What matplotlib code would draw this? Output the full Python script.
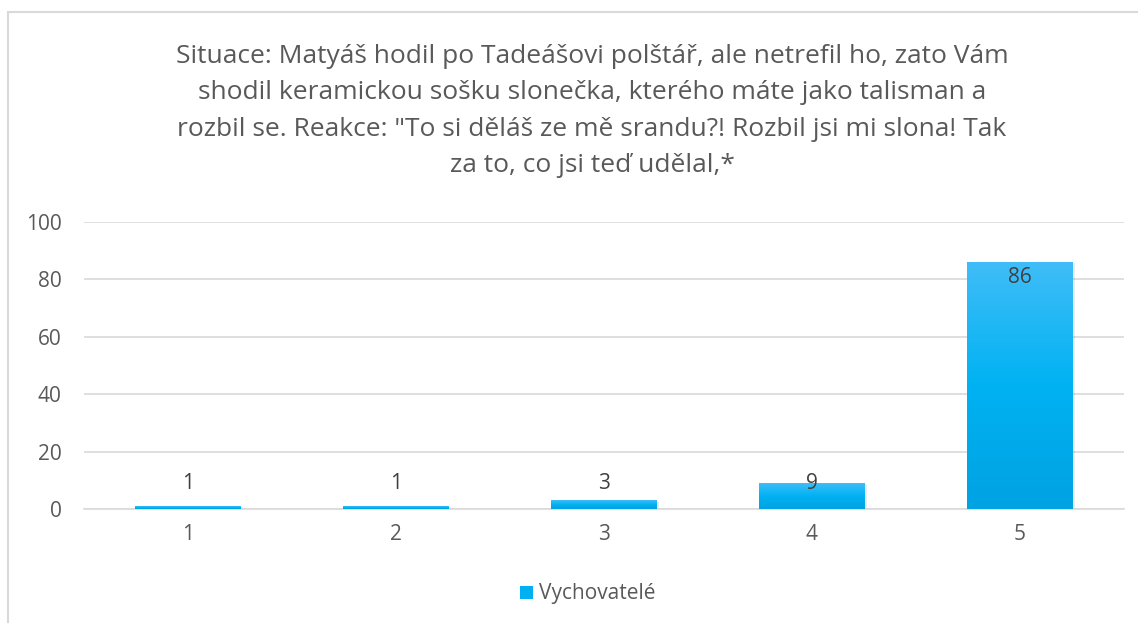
import numpy as np
import matplotlib.pyplot as plt
from matplotlib.patches import Rectangle
from matplotlib.colors import LinearSegmentedColormap

categories = ['1', '2', '3', '4', '5']
values = [1, 1, 3, 9, 86]
series_name = 'Vychovatelé'
yticks = [0, 20, 40, 60, 80, 100]
title = ('Situace: Matyáš hodil po Tadeášovi polštář, ale netrefil ho, zato Vám\n'
         'shodil keramickou sošku slonečka, kterého máte jako talisman a\n'
         'rozbil se. Reakce: "To si děláš ze mě srandu?! Rozbil jsi mi slona! Tak\n'
         'za to, co jsi teď udělal,*')

plt.rcParams['font.family'] = ['Open Sans', 'DejaVu Sans']
txt = '#595959'

fig = plt.figure(figsize=(11.38, 6.23), dpi=100)
fig.patches.append(Rectangle((8 / 1138, -0.05), 1.2, (623 - 12) / 623 + 0.05,
                             transform=fig.transFigure, fill=False,
                             edgecolor='#d9d9d9', linewidth=1.5))
ax = fig.add_axes([84 / 1138, 114 / 623, 1040 / 1138, 287 / 623])

x = np.arange(len(categories))
w = 0.505
cmap = LinearSegmentedColormap.from_list('g', ['#00a2e2', '#00b2f2', '#40bdf8'])
grad = np.linspace(0, 1, 256).reshape(-1, 1)
for xi, v in zip(x, values):
    # faint shadow
    ax.add_patch(Rectangle((xi - w / 2 + 0.012, -0.4), w, v, facecolor='#000000',
                           alpha=0.08, linewidth=0, zorder=2))
    ax.imshow(grad, cmap=cmap, aspect='auto', origin='lower',
              extent=(xi - w / 2, xi + w / 2, 0, v), zorder=3)
    ly = v - 5.5 if v > 20 else 9
    ax.text(xi, ly, str(v), ha='center', va='center', fontsize=15, color='#404040', zorder=4)

ax.set_xlim(-0.5, len(categories) - 0.5)
ax.set_ylim(0, 100)
ax.set_yticks(yticks)
ax.set_xticks(x)
ax.set_xticklabels(categories)
ax.yaxis.grid(True, color='#d9d9d9', linewidth=1.2)
ax.set_axisbelow(True)
for s in ['top', 'right', 'left']:
    ax.spines[s].set_visible(False)
ax.spines['bottom'].set_color('#d9d9d9')
ax.spines['bottom'].set_linewidth(1.2)
ax.tick_params(axis='both', length=0, labelsize=15, labelcolor=txt)
ax.tick_params(axis='x', pad=11)
ax.tick_params(axis='y', pad=16)
ax.set_facecolor('none')

fig.text(592 / 1138, 1 - 111 / 623, title, ha='center', va='center', fontsize=19,
         color=txt, linespacing=1.58)

ax.bar([0], [0], color='#00b0f0', label=series_name)
ax.legend(loc='center', bbox_to_anchor=(588 / 1138, 1 - 594 / 623),
          bbox_transform=fig.transFigure, frameon=False, fontsize=15,
          labelcolor=txt, handlelength=0.6, handleheight=0.6, handletextpad=0.3)

fig.savefig('out.png', dpi=100)
